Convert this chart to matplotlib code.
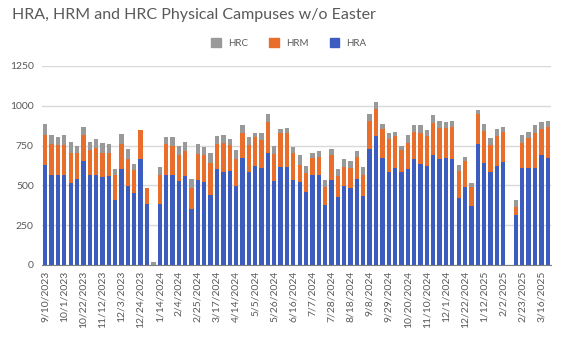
import numpy as np
import pandas as pd
import matplotlib
matplotlib.use("Agg")
import matplotlib.pyplot as plt
from matplotlib.patches import Patch

# weekly categories, Easter Sunday 2024 left out
weeks = [d for d in pd.date_range("2023-09-10", "2025-03-23", freq="7D")
         if d != pd.Timestamp("2024-03-31")]
labels = [f"{d.month}/{d.day}/{d.year}" for d in weeks]

hra = [629, 562, 568, 562, 514, 543, 652, 562, 568, 552, 556, 405, 600, 497, 451, 663,
       382, 0, 382, 568, 568, 527, 556, 349, 531, 518, 439, 600, 581, 591, 493, 669,
       581, 621, 606, 706, 527, 617, 617, 531, 518, 456, 568, 562, 378, 531, 426, 495,
       481, 543, 433, 729, 807, 669, 581, 610, 581, 600, 663, 633, 619, 688, 663, 669,
       665, 418, 487, 372, 759, 640, 581, 623, 646, 0, 314, 606, 606, 606, 690, 671]
hrm = [190, 195, 184, 190, 190, 161, 167, 161, 168, 152, 148, 157, 157, 166, 143, 186,
       101, 0, 186, 189, 178, 163, 157, 136, 163, 170, 201, 157, 184, 161, 172, 159,
       171, 182, 176, 189, 167, 211, 211, 171, 111, 121, 101, 119, 111, 157, 130, 122,
       127, 134, 135, 174, 173, 186, 209, 197, 138, 169, 169, 197, 188, 202, 198, 190,
       200, 171, 169, 117, 188, 204, 173, 186, 186, 0, 52, 159, 190, 224, 167, 196]
hrc = [67, 60, 53, 65, 69, 42, 46, 52, 52, 59, 53, 42, 66, 66, 37, 0,
       0, 20, 49, 48, 59, 56, 62, 56, 63, 52, 64, 54, 52, 42, 58, 50,
       53, 27, 48, 54, 52, 27, 31, 38, 63, 44, 35, 36, 42, 41, 48, 46,
       46, 40, 49, 46, 46, 33, 36, 25, 27, 50, 46, 48, 42, 53, 40, 38,
       42, 36, 25, 25, 29, 40, 46, 42, 33, 0, 39, 54, 40, 50, 38, 34]

c_hra, c_hrm, c_hrc = "#3C5DBF", "#E96E2C", "#999999"
txt = "#595959"
plt.rcParams["font.family"] = ["Lato", "DejaVu Sans"]

fig = plt.figure(figsize=(5.61, 3.38), dpi=100)
ax = fig.add_axes([0.075, 0.216, 0.907, 0.589])

x = np.arange(len(labels))
hra = np.array(hra)
hrm = np.array(hrm)
hrc = np.array(hrc)
ax.bar(x, hra, width=0.68, color=c_hra, zorder=3)
ax.bar(x, hrm, width=0.68, bottom=hra, color=c_hrm, zorder=3)
ax.bar(x, hrc, width=0.68, bottom=hra + hrm, color=c_hrc, zorder=3)

ax.set_xlim(-0.5, len(labels) - 0.5)
ax.set_ylim(0, 1250)
ax.set_yticks(range(0, 1251, 250))
ax.yaxis.grid(True, color="#d9d9d9", linewidth=1, zorder=0)
ax.set_xticks(x[::3])
ax.set_xticklabels(labels[::3], rotation=90, fontsize=7.5, color=txt)
ax.tick_params(axis="y", labelsize=7.5, labelcolor=txt, length=0, pad=6)
ax.tick_params(axis="x", length=0, pad=4)
for s in ["top", "right", "left"]:
    ax.spines[s].set_visible(False)
ax.spines["bottom"].set_color("#7f7f7f")
ax.spines["bottom"].set_zorder(4)

fig.text(0.022, 0.955, "HRA, HRM and HRC Physical Campuses w/o Easter",
         fontsize=11.5, color=txt, va="center", ha="left")
handles = [Patch(color=c_hrc, label="HRC"), Patch(color=c_hrm, label="HRM"),
           Patch(color=c_hra, label="HRA")]
fig.legend(handles=handles, loc="center", bbox_to_anchor=(0.515, 0.872), ncol=3,
           frameon=False, fontsize=7, handlelength=1.0, handleheight=1.0,
           columnspacing=2.2, handletextpad=0.7, labelcolor=txt)

fig.savefig("out.png", dpi=100)
